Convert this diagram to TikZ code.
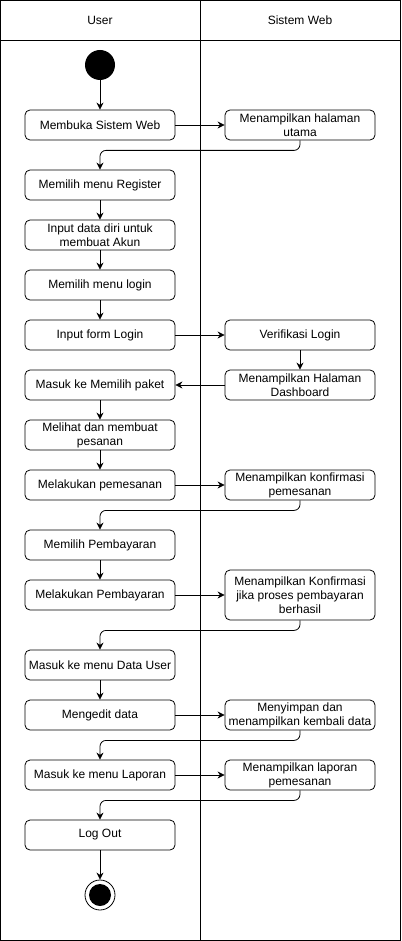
\documentclass[tikz,border=0pt]{standalone}
\usepackage{fontspec}
\setmainfont{Liberation Sans}
\usetikzlibrary{arrows.meta}
\begin{document}
\begin{tikzpicture}[x=1pt,y=-1pt,
  act/.style={draw, rounded corners=5pt, minimum width=150pt, minimum height=30pt, inner sep=0pt, align=center, font=\fontsize{12}{14}\selectfont, line width=0.8pt},
  flow/.style={-{Stealth[length=7pt,width=7pt]}, line width=0.8pt},
  lbl/.style={font=\fontsize{12}{14}\selectfont}
]
\useasboundingbox (0,0) rectangle (401,941);
% swimlanes
\draw[line width=0.9pt] (0.5,0.5) rectangle (400.5,940.5);
\draw[line width=0.9pt] (0.5,40.5) -- (400.5,40.5);
\draw[line width=0.9pt] (200.5,0.5) -- (200.5,940.5);
\node[lbl] (hU) at (100,20) {User};
\node[lbl] (hS) at (300,20) {Sistem Web};
% start
\node[circle, fill=black, minimum size=30pt, inner sep=0pt] (start) at (100,65) {};
% user column
\node[act] (u1) at (100,125) {Membuka Sistem Web};
\node[act] (u2) at (100,185) {Memilih menu Register};
\node[act] (u3) at (100,235) {Input data diri untuk\\membuat Akun};
\node[act] (u4) at (100,285) {Memilih menu login};
\node[act] (u5) at (100,335) {Input form Login};
\node[act] (u6) at (100,385) {Masuk ke Memilih paket};
\node[act] (u7) at (100,435) {Melihat dan membuat\\pesanan};
\node[act] (u8) at (100,485) {Melakukan pemesanan};
\node[act] (u9) at (100,545) {Memilih Pembayaran};
\node[act] (u10) at (100,595) {Melakukan Pembayaran};
\node[act] (u11) at (100,665) {Masuk ke menu Data User};
\node[act] (u12) at (100,715) {Mengedit data};
\node[act] (u13) at (100,775) {Masuk ke menu Laporan};
\node[act] (u14) at (100,835) {Log Out};
% system column
\node[act] (s1) at (300,125) {Menampilkan halaman\\utama};
\node[act] (s2) at (300,335) {Verifikasi Login};
\node[act] (s3) at (300,385) {Menampilkan Halaman\\Dashboard};
\node[act] (s4) at (300,485) {Menampilkan konfirmasi\\pemesanan};
\node[act, minimum height=50pt] (s5) at (300,595) {Menampilkan Konfirmasi\\jika proses pembayaran\\berhasil};
\node[act] (s6) at (300,715) {Menyimpan dan\\menampilkan kembali data};
\node[act] (s7) at (300,775) {Menampilkan laporan\\pemesanan};
% end
\node[circle, draw, line width=0.8pt, minimum size=30pt, inner sep=0pt] (end) at (100,895) {};
\node[circle, fill=black, minimum size=22pt, inner sep=0pt] (endin) at (100,895) {};
% connectors
\draw[flow] (start) -- (u1);
\draw[flow] (u1) -- (s1);
\draw[flow, rounded corners=6pt] (s1.south) -- ++(0,10) -| (u2.north);
\draw[flow] (u2) -- (u3);
\draw[flow] (u3) -- (u4);
\draw[flow] (u4) -- (u5);
\draw[flow] (u5) -- (s2);
\draw[flow] (s2) -- (s3);
\draw[flow] (s3) -- (u6);
\draw[flow] (u6) -- (u7);
\draw[flow] (u7) -- (u8);
\draw[flow] (u8) -- (s4);
\draw[flow, rounded corners=6pt] (s4.south) -- ++(0,10) -| (u9.north);
\draw[flow] (u9) -- (u10);
\draw[flow] (u10) -- (s5);
\draw[flow, rounded corners=6pt] (s5.south) -- ++(0,10) -| (u11.north);
\draw[flow] (u11) -- (u12);
\draw[flow] (u12) -- (s6);
\draw[flow, rounded corners=6pt] (s6.south) -- ++(0,10) -| (u13.north);
\draw[flow] (u13) -- (s7);
\draw[flow, rounded corners=6pt] (s7.south) -- ++(0,10) -| (u14.north);
\draw[flow] (u14) -- (end);
\end{tikzpicture}
\end{document}
